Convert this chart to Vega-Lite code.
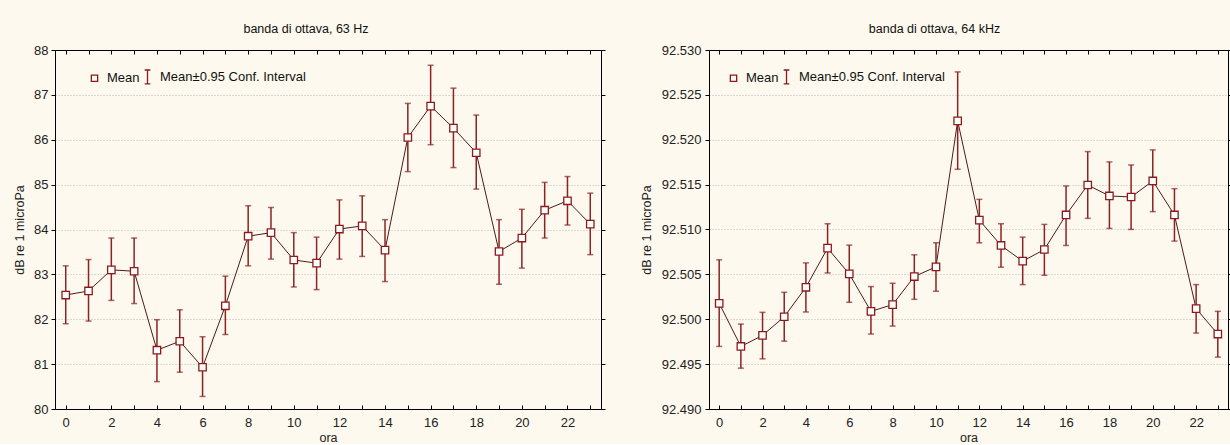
{
  "$schema": "https://vega.github.io/schema/vega-lite/v6.json",
  "padding": {"left": 13, "top": 22, "right": 0, "bottom": 0},
  "datasets": {
    "a": [
      {"hour": 0, "mean": 82.54, "lo": 81.90, "hi": 83.19},
      {"hour": 1, "mean": 82.63, "lo": 81.96, "hi": 83.33},
      {"hour": 2, "mean": 83.10, "lo": 82.42, "hi": 83.81},
      {"hour": 3, "mean": 83.07, "lo": 82.35, "hi": 83.81},
      {"hour": 4, "mean": 81.31, "lo": 80.61, "hi": 81.99},
      {"hour": 5, "mean": 81.51, "lo": 80.82, "hi": 82.21},
      {"hour": 6, "mean": 80.93, "lo": 80.28, "hi": 81.61},
      {"hour": 7, "mean": 82.30, "lo": 81.66, "hi": 82.96},
      {"hour": 8, "mean": 83.85, "lo": 83.19, "hi": 84.53},
      {"hour": 9, "mean": 83.93, "lo": 83.34, "hi": 84.49},
      {"hour": 10, "mean": 83.32, "lo": 82.72, "hi": 83.93},
      {"hour": 11, "mean": 83.25, "lo": 82.66, "hi": 83.83},
      {"hour": 12, "mean": 84.01, "lo": 83.34, "hi": 84.66},
      {"hour": 13, "mean": 84.08, "lo": 83.40, "hi": 84.75},
      {"hour": 14, "mean": 83.54, "lo": 82.84, "hi": 84.22},
      {"hour": 15, "mean": 86.05, "lo": 85.29, "hi": 86.81},
      {"hour": 16, "mean": 86.75, "lo": 85.89, "hi": 87.66},
      {"hour": 17, "mean": 86.26, "lo": 85.38, "hi": 87.15},
      {"hour": 18, "mean": 85.71, "lo": 84.90, "hi": 86.55},
      {"hour": 19, "mean": 83.51, "lo": 82.78, "hi": 84.22},
      {"hour": 20, "mean": 83.81, "lo": 83.14, "hi": 84.45},
      {"hour": 21, "mean": 84.43, "lo": 83.81, "hi": 85.05},
      {"hour": 22, "mean": 84.64, "lo": 84.10, "hi": 85.18},
      {"hour": 23, "mean": 84.12, "lo": 83.44, "hi": 84.81}
    ],
    "b": [
      {"hour": 0, "mean": 92.50177, "lo": 92.49697, "hi": 92.50662},
      {"hour": 1, "mean": 92.49697, "lo": 92.49455, "hi": 92.49946},
      {"hour": 2, "mean": 92.49820, "lo": 92.49559, "hi": 92.50077},
      {"hour": 3, "mean": 92.50028, "lo": 92.49756, "hi": 92.50300},
      {"hour": 4, "mean": 92.50356, "lo": 92.50081, "hi": 92.50628},
      {"hour": 5, "mean": 92.50792, "lo": 92.50516, "hi": 92.51064},
      {"hour": 6, "mean": 92.50505, "lo": 92.50189, "hi": 92.50826},
      {"hour": 7, "mean": 92.50088, "lo": 92.49835, "hi": 92.50364},
      {"hour": 8, "mean": 92.50163, "lo": 92.49924, "hi": 92.50401},
      {"hour": 9, "mean": 92.50476, "lo": 92.50222, "hi": 92.50718},
      {"hour": 10, "mean": 92.50584, "lo": 92.50312, "hi": 92.50852},
      {"hour": 11, "mean": 92.52210, "lo": 92.51671, "hi": 92.52756},
      {"hour": 12, "mean": 92.51105, "lo": 92.50852, "hi": 92.51336},
      {"hour": 13, "mean": 92.50822, "lo": 92.50580, "hi": 92.51064},
      {"hour": 14, "mean": 92.50647, "lo": 92.50386, "hi": 92.50915},
      {"hour": 15, "mean": 92.50777, "lo": 92.50490, "hi": 92.51057},
      {"hour": 16, "mean": 92.51162, "lo": 92.50822, "hi": 92.51485},
      {"hour": 17, "mean": 92.51496, "lo": 92.51124, "hi": 92.51868},
      {"hour": 18, "mean": 92.51374, "lo": 92.51012, "hi": 92.51753},
      {"hour": 19, "mean": 92.51362, "lo": 92.51001, "hi": 92.51719},
      {"hour": 20, "mean": 92.51541, "lo": 92.51199, "hi": 92.51887},
      {"hour": 21, "mean": 92.51162, "lo": 92.50871, "hi": 92.51455},
      {"hour": 22, "mean": 92.50118, "lo": 92.49846, "hi": 92.50386},
      {"hour": 23, "mean": 92.49835, "lo": 92.49578, "hi": 92.50088}
    ],
    "leg": [
      {"k": "Mean"},
      {"k": "Mean±0.95 Conf. Interval"}
    ]
  },
  "spacing": 33,
  "resolve": {"scale": {"shape": "independent"}, "legend": {"shape": "independent"}},
  "hconcat": [
    {
      "width": 546,
      "height": 359,
      "title": {"text": "banda di ottava, 63 Hz", "dx": -22},
      "data": {"name": "a"},
      "resolve": {"axis": {"x": "independent", "y": "independent"}},
      "layer": [
        {
          "mark": {"type": "point", "opacity": 0},
          "encoding": {
            "x": {"field": "hour", "type": "quantitative", "scale": {"domain": [-0.47, 23.47], "nice": false, "zero": false},
              "axis": {"orient": "bottom", "title": "ora", "values": [0,1,2,3,4,5,6,7,8,9,10,11,12,13,14,15,16,17,18,19,20,21,22,23], "labelExpr": "datum.value % 2 === 0 ? datum.label : ''", "tickSize": -4, "labelPadding": 11, "grid": false, "titlePadding": 2}},
            "y": {"field": "mean", "type": "quantitative", "scale": {"domain": [80, 88], "nice": false, "zero": false},
              "axis": {"orient": "left", "title": "dB re 1 microPa", "values": [80,81,82,83,84,85,86,87,88], "format": "d", "tickSize": 4, "labelPadding": 3, "grid": true, "titlePadding": 7}}
          }
        },
        {
          "mark": {"type": "point", "opacity": 0},
          "encoding": {
            "x": {"field": "hour", "type": "quantitative", "axis": {"orient": "top", "title": null, "labels": false, "values": [0,1,2,3,4,5,6,7,8,9,10,11,12,13,14,15,16,17,18,19,20,21,22,23], "tickSize": -4, "grid": false}},
            "y": {"field": "mean", "type": "quantitative", "axis": {"orient": "right", "title": null, "labels": false, "values": [80,81,82,83,84,85,86,87,88], "tickSize": 4, "grid": false}}
          }
        },
        {
          "mark": {"type": "line", "color": "#4e1a1a", "strokeWidth": 1},
          "encoding": {
            "x": {"field": "hour", "type": "quantitative", "axis": null},
            "y": {"field": "mean", "type": "quantitative", "axis": null}
          }
        },
        {
          "mark": {"type": "rule", "color": "#8B2323", "strokeWidth": 1.5},
          "encoding": {
            "x": {"field": "hour", "type": "quantitative", "axis": null},
            "y": {"field": "lo", "type": "quantitative", "axis": null},
            "y2": {"field": "hi"}
          }
        },
        {
          "mark": {"type": "tick", "orient": "horizontal", "color": "#8B2323", "size": 6, "thickness": 1.5},
          "encoding": {
            "x": {"field": "hour", "type": "quantitative", "axis": null},
            "y": {"field": "lo", "type": "quantitative", "axis": null}
          }
        },
        {
          "mark": {"type": "tick", "orient": "horizontal", "color": "#8B2323", "size": 6, "thickness": 1.5},
          "encoding": {
            "x": {"field": "hour", "type": "quantitative", "axis": null},
            "y": {"field": "hi", "type": "quantitative", "axis": null}
          }
        },
        {
          "mark": {"type": "point", "shape": "square", "filled": true, "fill": "white", "stroke": "#8B1A1A", "strokeWidth": 1.3, "size": 55, "opacity": 1},
          "encoding": {
            "x": {"field": "hour", "type": "quantitative", "axis": null},
            "y": {"field": "mean", "type": "quantitative", "axis": null}
          }
        },
        {
          "data": {"name": "leg"},
          "mark": {"type": "point", "opacity": 0, "filled": false, "color": "#8B1A1A", "strokeWidth": 1.3},
          "encoding": {
            "shape": {"field": "k", "type": "nominal",
              "scale": {"domain": ["Mean", "Mean±0.95 Conf. Interval"], "range": ["square", "M0,-2.2L0,2.2M-0.9,-2.2L0.9,-2.2M-0.9,2.2L0.9,2.2"]},
              "legend": {"title": null, "orient": "none", "legendX": 33, "legendY": 20, "direction": "horizontal", "columnPadding": 1, "labelOffset": 6, "symbolSize": 40, "labelFontSize": 13, "labelColor": "#111", "labelFont": "Liberation Sans",
                "symbolStrokeColor": "#8B1A1A", "symbolStrokeWidth": 1.3, "symbolOpacity": 1,
                "encode": {"symbols": {"update": {"stroke": {"value": "#8B1A1A"}, "opacity": {"value": 1}, "strokeOpacity": {"value": 1}, "strokeWidth": {"value": 1.3}}}}}}
          }
        }
      ]
    },
    {
      "width": 519,
      "height": 359,
      "title": {"text": "banda di ottava, 64 kHz", "dx": -34},
      "data": {"name": "b"},
      "resolve": {"axis": {"x": "independent", "y": "independent"}},
      "layer": [
        {
          "mark": {"type": "point", "opacity": 0},
          "encoding": {
            "x": {"field": "hour", "type": "quantitative", "scale": {"domain": [-0.47, 23.47], "nice": false, "zero": false},
              "axis": {"orient": "bottom", "title": "ora", "values": [0,1,2,3,4,5,6,7,8,9,10,11,12,13,14,15,16,17,18,19,20,21,22,23], "labelExpr": "datum.value % 2 === 0 ? datum.label : ''", "tickSize": -4, "labelPadding": 11, "grid": false, "titlePadding": 2}},
            "y": {"field": "mean", "type": "quantitative", "scale": {"domain": [92.49, 92.53], "nice": false, "zero": false},
              "axis": {"orient": "left", "title": "dB re 1 microPa", "values": [92.49, 92.495, 92.5, 92.505, 92.51, 92.515, 92.52, 92.525, 92.53], "format": ".3f", "tickSize": 4, "labelPadding": 4, "grid": true, "titlePadding": 8}}
          }
        },
        {
          "mark": {"type": "point", "opacity": 0},
          "encoding": {
            "x": {"field": "hour", "type": "quantitative", "axis": {"orient": "top", "title": null, "labels": false, "values": [0,1,2,3,4,5,6,7,8,9,10,11,12,13,14,15,16,17,18,19,20,21,22,23], "tickSize": -4, "grid": false}},
            "y": {"field": "mean", "type": "quantitative", "axis": {"orient": "right", "title": null, "labels": false, "values": [92.49, 92.495, 92.5, 92.505, 92.51, 92.515, 92.52, 92.525, 92.53], "tickSize": 2, "grid": false}}
          }
        },
        {
          "mark": {"type": "line", "color": "#4e1a1a", "strokeWidth": 1},
          "encoding": {
            "x": {"field": "hour", "type": "quantitative", "axis": null},
            "y": {"field": "mean", "type": "quantitative", "axis": null}
          }
        },
        {
          "mark": {"type": "rule", "color": "#8B2323", "strokeWidth": 1.5},
          "encoding": {
            "x": {"field": "hour", "type": "quantitative", "axis": null},
            "y": {"field": "lo", "type": "quantitative", "axis": null},
            "y2": {"field": "hi"}
          }
        },
        {
          "mark": {"type": "tick", "orient": "horizontal", "color": "#8B2323", "size": 6, "thickness": 1.5},
          "encoding": {
            "x": {"field": "hour", "type": "quantitative", "axis": null},
            "y": {"field": "lo", "type": "quantitative", "axis": null}
          }
        },
        {
          "mark": {"type": "tick", "orient": "horizontal", "color": "#8B2323", "size": 6, "thickness": 1.5},
          "encoding": {
            "x": {"field": "hour", "type": "quantitative", "axis": null},
            "y": {"field": "hi", "type": "quantitative", "axis": null}
          }
        },
        {
          "mark": {"type": "point", "shape": "square", "filled": true, "fill": "white", "stroke": "#8B1A1A", "strokeWidth": 1.3, "size": 55, "opacity": 1},
          "encoding": {
            "x": {"field": "hour", "type": "quantitative", "axis": null},
            "y": {"field": "mean", "type": "quantitative", "axis": null}
          }
        },
        {
          "data": {"name": "leg"},
          "mark": {"type": "point", "opacity": 0, "filled": false, "color": "#8B1A1A", "strokeWidth": 1.3},
          "encoding": {
            "shape": {"field": "k", "type": "nominal",
              "scale": {"domain": ["Mean", "Mean±0.95 Conf. Interval"], "range": ["square", "M0,-2.2L0,2.2M-0.9,-2.2L0.9,-2.2M-0.9,2.2L0.9,2.2"]},
              "legend": {"title": null, "orient": "none", "legendX": 18, "legendY": 20, "direction": "horizontal", "columnPadding": 1, "labelOffset": 6, "symbolSize": 40, "labelFontSize": 13, "labelColor": "#111", "labelFont": "Liberation Sans",
                "symbolStrokeColor": "#8B1A1A", "symbolStrokeWidth": 1.3, "symbolOpacity": 1,
                "encode": {"symbols": {"update": {"stroke": {"value": "#8B1A1A"}, "opacity": {"value": 1}, "strokeOpacity": {"value": 1}, "strokeWidth": {"value": 1.3}}}}}}
          }
        }
      ]
    }
  ],
  "config": {
    "background": "#FDF9EE",
    "font": "Liberation Sans",
    "view": {"stroke": "#000", "strokeWidth": 1, "fill": "white"},
    "title": {"fontSize": 12.5, "fontWeight": "normal", "color": "#111", "font": "Liberation Sans", "offset": 9, "anchor": "middle"},
    "axis": {
      "labelFont": "Liberation Sans", "labelFontSize": 13, "labelColor": "#222",
      "titleFont": "Liberation Sans", "titleFontSize": 12.5, "titleFontWeight": "normal", "titleColor": "#222",
      "domainColor": "#000", "domainWidth": 1, "tickColor": "#000", "tickWidth": 1,
      "gridColor": "#b8b8b8", "gridDash": [1, 2], "gridWidth": 1
    }
  }
}
